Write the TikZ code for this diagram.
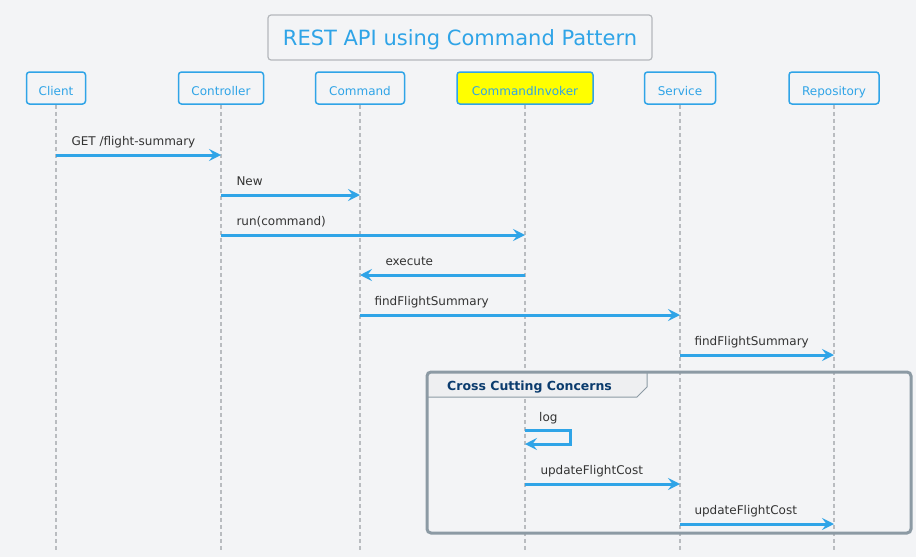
\documentclass[tikz,border=0pt]{standalone}
\usepackage{fontspec}
\setmainfont{DejaVu Sans}
\usetikzlibrary{arrows.meta,positioning}
\definecolor{bg}{HTML}{F3F4F6}
\definecolor{umlblue}{HTML}{2FA4E7}
\definecolor{lifegray}{HTML}{B9BCC0}
\definecolor{titlegray}{HTML}{B5B8BC}
\definecolor{groupgray}{HTML}{8C9AA4}
\definecolor{tabgray}{HTML}{EEEFF1}
\definecolor{grouptext}{HTML}{0B3C6E}
\definecolor{msgtext}{HTML}{333333}
\definecolor{invoker}{HTML}{FFFF00}

\begin{document}
\begin{tikzpicture}[x=1pt,y=-1pt,
    participant/.style={draw=umlblue,fill=bg,rounded corners=3pt,line width=1.5pt,
      text=umlblue,font=\fontsize{12}{14}\selectfont,minimum height=32pt,inner sep=0pt,
      text height=15.5pt,text depth=0pt},
    lifeline/.style={draw=lifegray,line width=2pt,dash pattern=on 4pt off 3pt},
    message/.style={draw=umlblue,line width=3pt,
      -{Stealth[length=12pt,width=12pt,inset=4.5pt]}},
    msg label/.style={anchor=base west,inner sep=0pt,text=msgtext,
      font=\fontsize{12}{14}\selectfont}]
  % Background
  \fill[bg] (0,0) rectangle (916,557);
  \useasboundingbox (0,0) rectangle (916,557);

  % Title
  \node[draw=titlegray,fill=bg,rounded corners=3pt,line width=1.2pt,
    minimum width=384pt,minimum height=45pt,inner sep=0pt,text=umlblue,
    text height=15pt,text depth=0pt,
    font=\fontsize{21}{25}\selectfont] (title) at (460,37.5) {REST API using Command Pattern};

  % Participants
  \node[participant,minimum width=59pt] (Client) at (56,88) {Client};
  \node[participant,minimum width=85pt] (Controller) at (221,88) {Controller};
  \node[participant,minimum width=89pt] (Command) at (360,88) {Command};
  \node[participant,minimum width=136pt,fill=invoker] (Invoker) at (525,88) {CommandInvoker};
  \node[participant,minimum width=71pt] (Service) at (680,88) {Service};
  \node[participant,minimum width=90pt] (Repository) at (834,88) {Repository};

  % Lifelines
  \coordinate (bottom) at (0,550);
  \foreach \p in {Client,Controller,Command,Invoker,Service,Repository}
    \draw[lifeline] (\p.south) -- (\p |- bottom);

  % Rows
  \coordinate (r1) at (0,155);
  \coordinate (r2) at (0,195);
  \coordinate (r3) at (0,235);
  \coordinate (r4) at (0,275);
  \coordinate (r5) at (0,315);
  \coordinate (r6) at (0,355);
  \coordinate (r7) at (0,430);
  \coordinate (r7b) at (0,444);
  \coordinate (r8) at (0,484);
  \coordinate (r9) at (0,524);
  \coordinate (loopx) at (570,0);

  % Group
  \fill[tabgray] (427,372) -- (647,372) -- (647,387) -- (637,397) -- (427,397) -- cycle;
  \draw[groupgray,line width=1pt] (427,397) -- (637,397) -- (647,387) -- (647,372);
  \draw[groupgray,line width=3pt,rounded corners=4pt] (427,372) rectangle (911,533);
  \node[anchor=base west,inner sep=0pt,text=grouptext,
    font=\bfseries\fontsize{12.5}{15}\selectfont] (group) at (447,390) {Cross Cutting Concerns};

  % Messages
  \draw[message] (Client |- r1) -- (Controller |- r1)
    node[msg label,pos=0,xshift=14pt,yshift=10pt] {GET /flight-summary};
  \draw[message] (Controller |- r2) -- (Command |- r2)
    node[msg label,pos=0,xshift=14pt,yshift=10pt] {New};
  \draw[message] (Controller |- r3) -- (Invoker |- r3)
    node[msg label,pos=0,xshift=14pt,yshift=10pt] {run(command)};
  \draw[message] (Invoker |- r4) -- (Command |- r4)
    node[msg label,pos=1,xshift=24pt,yshift=10pt] {execute};
  \draw[message] (Command |- r5) -- (Service |- r5)
    node[msg label,pos=0,xshift=13pt,yshift=10pt] {findFlightSummary};
  \draw[message] (Service |- r6) -- (Repository |- r6)
    node[msg label,pos=0,xshift=13pt,yshift=10pt] {findFlightSummary};
  \draw[message] (Invoker |- r7) -- (loopx |- r7) -- (loopx |- r7b) -- (Invoker |- r7b);
  \node[msg label] (log) at ([xshift=14pt,yshift=9pt]Invoker |- r7) {log};
  \draw[message] (Invoker |- r8) -- (Service |- r8)
    node[msg label,pos=0,xshift=14pt,yshift=10pt] {updateFlightCost};
  \draw[message] (Service |- r9) -- (Repository |- r9)
    node[msg label,pos=0,xshift=13pt,yshift=10pt] {updateFlightCost};
\end{tikzpicture}
\end{document}
